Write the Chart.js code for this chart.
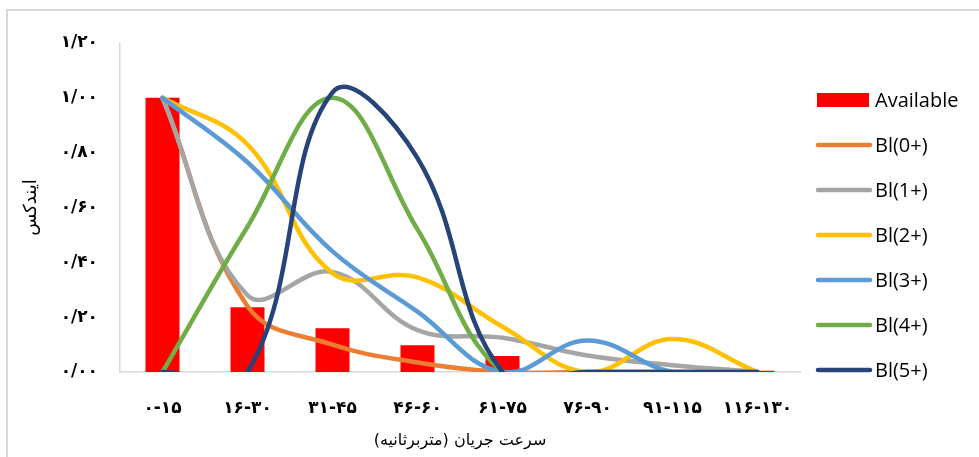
<!DOCTYPE html>
<html>
<head>
<meta charset="utf-8">
<script src="https://cdn.jsdelivr.net/npm/chart.js@4/dist/chart.umd.min.js"></script>
<style>
  html, body { margin: 0; padding: 0; background: #fff; }
  #frame { position: absolute; left: 6px; top: 9px; width: 1000px; height: 500px;
           border-left: 2px solid #d9d9d9; border-top: 2px solid #d9d9d9; }
  #wrap { position: absolute; left: 0; top: 0; width: 979px; height: 457px; }
</style>
</head>
<body>
<div id="frame"></div>
<div id="wrap"><canvas id="chart" width="979" height="457"></canvas></div>
<script>
const categories = ['۰-۱۵', '۱۶-۳۰', '۳۱-۴۵', '۴۶-۶۰', '۶۱-۷۵', '۷۶-۹۰', '۹۱-۱۱۵', '۱۱۶-۱۳۰'];
const available = [1.0, 0.236, 0.16, 0.098, 0.058, 0.005, 0.0, 0.005];
const bl0 = [1.0, 0.24, 0.1, 0.035, 0.0, 0.0, 0.0, 0.0];
const bl1 = [1.0, 0.28, 0.365, 0.153, 0.125, 0.06, 0.025, 0.0];
const bl2 = [1.0, 0.83, 0.36, 0.345, 0.165, 0.0, 0.12, 0.0];
const bl3 = [1.0, 0.765, 0.44, 0.22, 0.0, 0.115, 0.0, 0.0];
const bl4 = [0.0, 0.53, 1.0, 0.52, 0.0, 0.0, 0.0, 0.0];
const bl5 = [0.0, 0.0, 1.02, 0.78, 0.0, 0.0, 0.0, 0.0];
const yTickLabels = ['۰/۰۰', '۰/۲۰', '۰/۴۰', '۰/۶۰', '۰/۸۰', '۱/۰۰', '۱/۲۰'];
const xTitle = '\u200Fسرعت جریان (متربرثانیه)\u200F';
const yTitle = 'ایندکس';

const persianFont = "'DejaVu Sans', sans-serif";
const latinFont = "'Open Sans', sans-serif";

function lineSet(label, data, color, order) {
  return {
    type: 'line',
    label: label,
    data: data,
    borderColor: color,
    backgroundColor: color,
    borderWidth: 4.5,
    borderCapStyle: 'round',
    borderJoinStyle: 'round',
    capBezierPoints: false,
    pointRadius: 0,
    tension: 0.4,
    fill: false,
    order: order
  };
}

// side legend, drawn by hand so the rows sit where Excel put them
const sideLegend = {
  id: 'sideLegend',
  afterDraw(chart) {
    const ctx = chart.ctx;
    const x0 = chart.chartArea.right + 16;
    ctx.save();
    ctx.font = '20px ' + latinFont;
    ctx.textBaseline = 'middle';
    ctx.textAlign = 'left';
    chart.data.datasets.forEach((ds, i) => {
      const y = 100 + i * 45;
      if (ds.type === 'bar') {
        ctx.fillStyle = ds.backgroundColor;
        ctx.fillRect(x0 + 1, y - 7, 52, 14);
      } else {
        ctx.strokeStyle = ds.borderColor;
        ctx.lineWidth = 4.5;
        ctx.lineCap = 'round';
        ctx.beginPath();
        ctx.moveTo(x0 + 2, y);
        ctx.lineTo(x0 + 54, y);
        ctx.stroke();
      }
      ctx.fillStyle = '#000';
      ctx.fillText(ds.label, x0 + 59, y + 1);
    });
    ctx.restore();
  }
};

new Chart(document.getElementById('chart'), {
  data: {
    labels: categories,
    datasets: [
      {
        type: 'bar',
        label: 'Available',
        data: available,
        backgroundColor: '#ff0000',
        borderWidth: 0,
        barPercentage: 0.4,
        categoryPercentage: 1.0,
        order: 10
      },
      lineSet('Bl(0+)', bl0, '#ed7d31', 6),
      lineSet('Bl(1+)', bl1, '#a5a5a5', 5),
      lineSet('Bl(2+)', bl2, '#ffc000', 4),
      lineSet('Bl(3+)', bl3, '#5b9bd5', 3),
      lineSet('Bl(4+)', bl4, '#70ad47', 2),
      lineSet('Bl(5+)', bl5, '#264478', 1)
    ]
  },
  options: {
    responsive: false,
    animation: false,
    layout: { padding: { top: 43, right: 179, bottom: 0, left: 0 } },
    plugins: {
      legend: { display: false },
      tooltip: { enabled: false }
    },
    scales: {
      x: {
        grid: { display: false, drawTicks: false },
        border: { color: '#d9d9d9', width: 1.5 },
        ticks: {
          color: '#000',
          padding: 26,
          maxRotation: 0,
          autoSkip: false,
          font: { family: persianFont, size: 17, weight: 'bold' }
        },
        title: {
          display: true,
          text: xTitle,
          color: '#000',
          padding: { top: 0, bottom: 7 },
          font: { family: persianFont, size: 16 }
        },
        afterFit(scale) { scale.height = 85; }
      },
      y: {
        min: 0,
        max: 1.2,
        grid: { display: false, drawTicks: false },
        border: { color: '#d9d9d9', width: 1.5 },
        ticks: {
          stepSize: 0.2,
          color: '#000',
          padding: 22,
          font: { family: persianFont, size: 17, weight: 'bold' },
          callback: (value) => yTickLabels[Math.round(value / 0.2)]
        },
        title: {
          display: true,
          text: yTitle,
          color: '#000',
          padding: { top: 21, bottom: 0 },
          font: { family: persianFont, size: 18 }
        },
        afterFit(scale) { scale.width = 120; }
      }
    }
  },
  plugins: [sideLegend]
});
</script>
</body>
</html>
